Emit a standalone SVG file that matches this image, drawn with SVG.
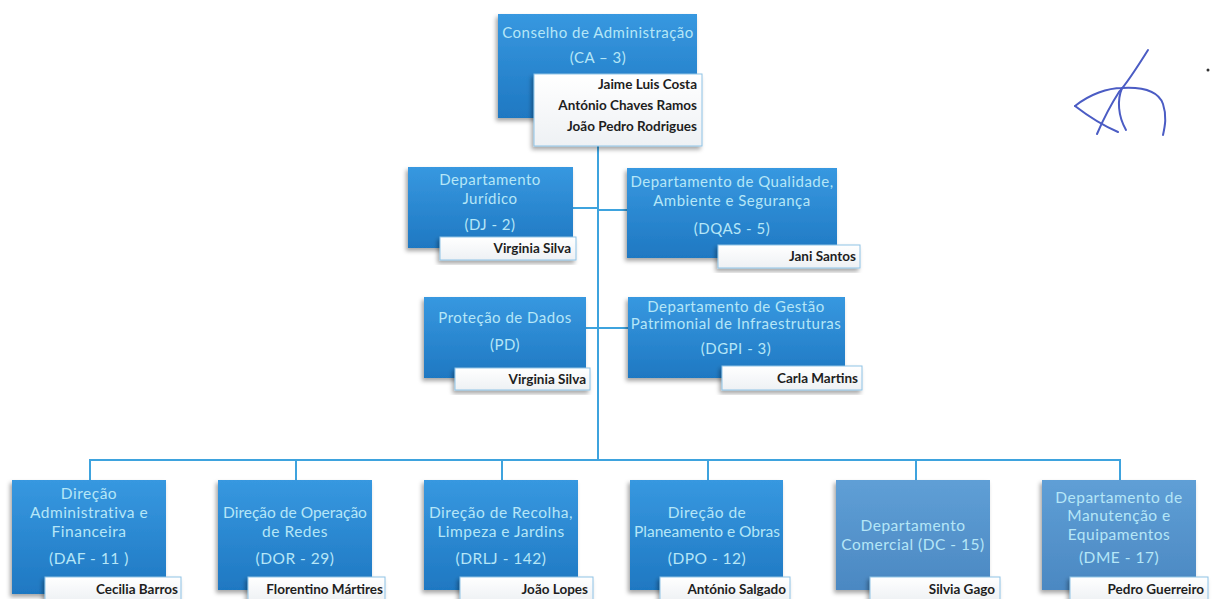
<svg xmlns="http://www.w3.org/2000/svg" width="1213" height="599" viewBox="0 0 1213 599">
<defs>
<linearGradient id="gb" x1="0" y1="0" x2="0" y2="1">
<stop offset="0" stop-color="#3798e0"/>
<stop offset="1" stop-color="#1f78c2"/>
</linearGradient>
<linearGradient id="gm" x1="0" y1="0" x2="0" y2="1">
<stop offset="0" stop-color="#5f9fd6"/>
<stop offset="1" stop-color="#4b88c2"/>
</linearGradient>
<linearGradient id="gw" x1="0" y1="0" x2="0" y2="1">
<stop offset="0" stop-color="#ffffff"/>
<stop offset="1" stop-color="#eef1f4"/>
</linearGradient>
<filter id="sh" x="-10%" y="-10%" width="120%" height="130%">
<feDropShadow dx="-2" dy="3" stdDeviation="2" flood-color="#000" flood-opacity="0.35"/>
</filter>
</defs>
<style>
.b{fill:url(#gb);filter:url(#sh)}
.m{fill:url(#gm);filter:url(#sh)}
.w{fill:url(#gw);stroke:#8fc3e6;stroke-width:1;filter:url(#sh)}
.t{font-family:Lato,"Liberation Sans",sans-serif;font-size:15px;fill:#b5e6f7;text-anchor:middle;letter-spacing:0.5px}
.l{font-size:15.5px}
.k{letter-spacing:0px}
.n{font-family:Lato,"Liberation Sans",sans-serif;font-size:13.5px;font-weight:bold;fill:#1e1e1e;text-anchor:end}
.c{fill:none;stroke:#3ea3de;stroke-width:2}
</style>
<rect width="1213" height="599" fill="#ffffff"/>
<g id="connectors">
<path class="c" d="M598 146V460M90 480V460H1120V480M296 460V480M502 460V480M708 460V480M916 460V480M573 208H598M598 210H627M586 328H628"/>
</g>
<g id="ca">
<rect class="b" x="498" y="14" width="199" height="104"/>
<text class="t" x="598" y="38">Conselho de Administração</text>
<text class="t" x="598" y="63">(CA – 3)</text>
<rect class="w" x="534" y="74" width="168" height="72"/>
<text class="n" x="697" y="89">Jaime Luis Costa</text>
<text class="n" x="697" y="110">António Chaves Ramos</text>
<text class="n" x="697" y="131">João Pedro Rodrigues</text>
</g>
<g id="dj">
<rect class="b" x="408" y="167" width="165" height="81"/>
<text class="t" x="490" y="185">Departamento</text>
<text class="t" x="490" y="204">Jurídico</text>
<text class="t" x="490" y="230">(DJ - 2)</text>
<rect class="w" x="440" y="237" width="136" height="23"/>
<text class="n" x="571" y="253">Virginia Silva</text>
</g>
<g id="dqas">
<rect class="b" x="627" y="168" width="210" height="90"/>
<text class="t" x="732" y="187">Departamento de Qualidade,</text>
<text class="t" x="732" y="206">Ambiente e Segurança</text>
<text class="t" x="732" y="234">(DQAS - 5)</text>
<rect class="w" x="718" y="245" width="142" height="23"/>
<text class="n" x="856" y="261">Jani Santos</text>
</g>
<g id="pd">
<rect class="b" x="424" y="297" width="162" height="81"/>
<text class="t" x="505" y="323">Proteção de Dados</text>
<text class="t" x="505" y="350">(PD)</text>
<rect class="w" x="455" y="368" width="135" height="22"/>
<text class="n" x="586" y="384">Virginia Silva</text>
</g>
<g id="dgpi">
<rect class="b" x="628" y="297" width="217" height="81"/>
<text class="t" x="736" y="312">Departamento de Gestão</text>
<text class="t" x="736" y="329">Patrimonial de Infraestruturas</text>
<text class="t" x="736" y="354">(DGPI - 3)</text>
<rect class="w" x="722" y="366" width="140" height="24"/>
<text class="n" x="858" y="383">Carla Martins</text>
</g>
<g id="daf">
<rect class="b" x="12" y="480" width="154" height="114"/>
<text class="t l" x="89" y="499">Direção</text>
<text class="t l" x="89" y="518">Administrativa e</text>
<text class="t l" x="89" y="537">Financeira</text>
<text class="t l" x="89" y="564">(DAF - 11 )</text>
<rect class="w" x="45" y="577" width="136" height="24"/>
<text class="n" x="178" y="594">Cecilia Barros</text>
</g>
<g id="dor">
<rect class="b" x="218" y="480" width="154" height="110"/>
<text class="t l k" x="295" y="518">Direção de Operação</text>
<text class="t l" x="295" y="537">de Redes</text>
<text class="t l" x="295" y="564">(DOR - 29)</text>
<rect class="w" x="248" y="577" width="137" height="24"/>
<text class="n" x="383" y="594">Florentino Mártires</text>
</g>
<g id="drlj">
<rect class="b" x="424" y="480" width="154" height="110"/>
<text class="t l" x="501" y="518">Direção de Recolha,</text>
<text class="t l" x="501" y="537">Limpeza e Jardins</text>
<text class="t l" x="501" y="564">(DRLJ - 142)</text>
<rect class="w" x="460" y="577" width="133" height="24"/>
<text class="n" x="588" y="594">João Lopes</text>
</g>
<g id="dpo">
<rect class="b" x="630" y="480" width="153" height="110"/>
<text class="t l" x="707" y="518">Direção de</text>
<text class="t l k" x="707" y="537">Planeamento e Obras</text>
<text class="t l" x="707" y="564">(DPO - 12)</text>
<rect class="w" x="660" y="577" width="130" height="24"/>
<text class="n" x="786" y="594">António Salgado</text>
</g>
<g id="dc">
<rect class="m" x="836" y="480" width="154" height="110"/>
<text class="t l" x="913" y="531">Departamento</text>
<text class="t l" x="913" y="550">Comercial (DC - 15)</text>
<rect class="w" x="870" y="577" width="130" height="24"/>
<text class="n" x="995" y="594">Silvia Gago</text>
</g>
<g id="dme">
<rect class="m" x="1042" y="480" width="154" height="110"/>
<text class="t l" x="1119" y="503">Departamento de</text>
<text class="t l" x="1119" y="521">Manutenção e</text>
<text class="t l" x="1119" y="540">Equipamentos</text>
<text class="t l" x="1119" y="563">(DME - 17)</text>
<rect class="w" x="1070" y="577" width="138" height="24"/>
<text class="n" x="1204" y="594">Pedro Guerreiro</text>
</g>
<g id="signature" fill="none" stroke="#4b5cc4" stroke-width="2" stroke-linecap="round">
<path d="M1148 50C1138 66 1128 82 1119 92C1110 106 1103 120 1097 134"/>
<path d="M1075 106C1090 94 1108 88 1122 88C1140 87 1158 90 1163 104C1167 116 1165 126 1163 135"/>
<path d="M1075 106C1088 116 1104 126 1118 132"/>
<path d="M1122 88C1117 100 1118 116 1126 130"/>
<circle cx="1208" cy="70" r="1.5" fill="#333" stroke="none"/>
</g>
</svg>
